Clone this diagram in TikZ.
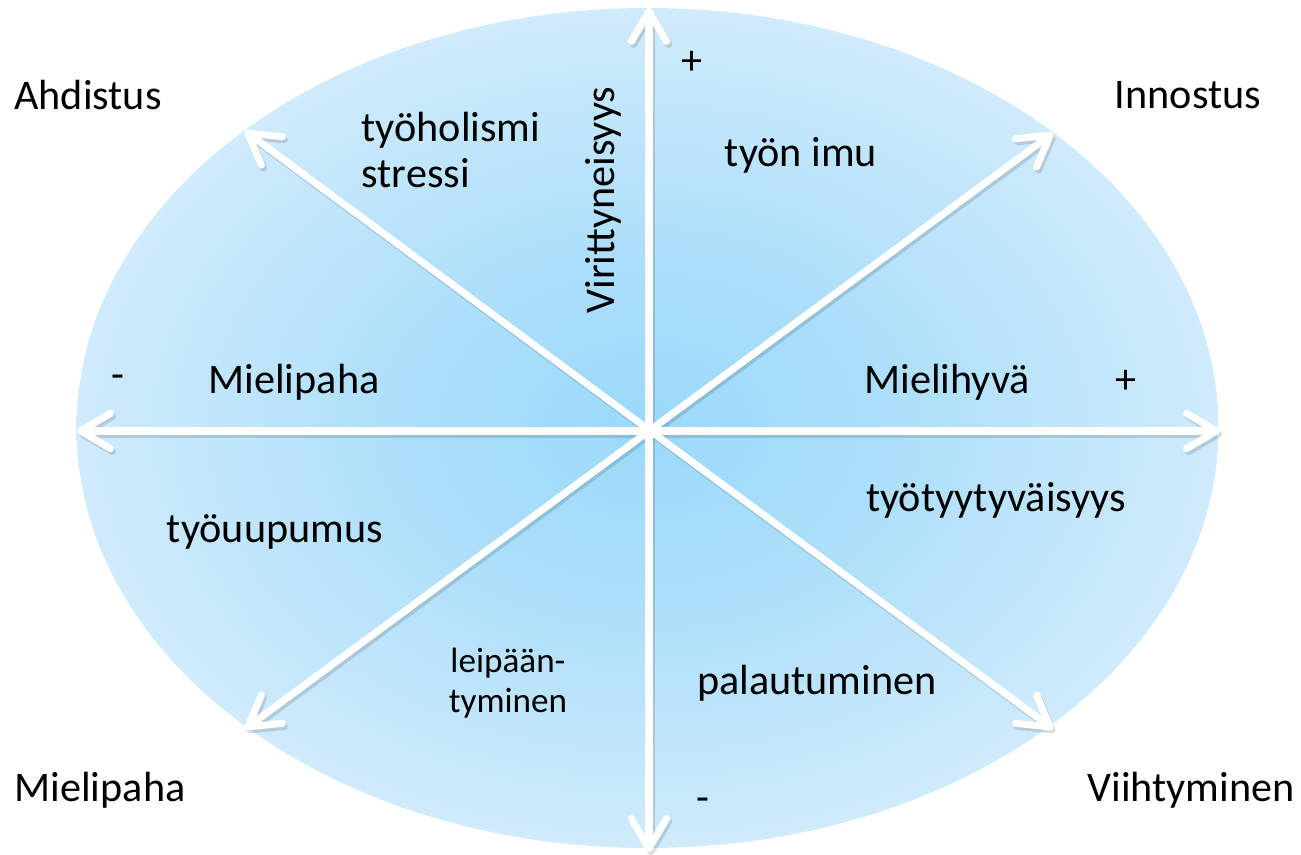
\documentclass[tikz,border=0pt]{standalone}
\usepackage{fontspec}
\setmainfont{Carlito}
\usetikzlibrary{arrows.meta}
\definecolor{skyin}{RGB}{155,217,250}
\definecolor{skyout}{RGB}{208,235,251}
\pgfdeclareradialshading{skyshade}{\pgfpoint{0bp}{0bp}}{color(0bp)=(skyin); color(10bp)=(skyin!70!skyout); color(25bp)=(skyout); color(50bp)=(skyout)}
\tikzset{
  axis/.style={draw=white,line width=2pt,
    {Straight Barb[length=8.5pt,width=10pt,round]}-{Straight Barb[length=8.5pt,width=10pt,round]}},
  axisshadow/.style={axis,draw=black,opacity=.13},
  lbl/.style={inner sep=0pt,font=\fontsize{12}{13}\selectfont},
  smalllbl/.style={inner sep=0pt,align=center,font=\fontsize{10}{11.4}\selectfont}
}
\begin{document}
\begin{tikzpicture}[x=0.01cm,y=-0.01cm]
    \useasboundingbox[fill=white] (0,0) rectangle (1301,854);
    \shade[shading=skyshade] (647.5,428) ellipse [x radius=571, y radius=420];

    \coordinate (o) at (649,431);
    \coordinate (n) at (649,8);
    \coordinate (s) at (649,852);
    \coordinate (w) at (77,431);
    \coordinate (e) at (1220,431);
    \coordinate (ne) at (1053,133);
    \coordinate (nw) at (245,131);
    \coordinate (sw) at (245,729);
    \coordinate (se) at (1053,729);

    \foreach \a/\b in {s/n,w/e,sw/ne,se/nw}
      \path[axisshadow] ([shift={(2,3)}]\a) -- ([shift={(2,3)}]\b);
    \foreach \a/\b in {s/n,w/e,sw/ne,se/nw}
      \path[axis] (\a) -- (\b);

    \node[lbl] (ahdistus) at (88,95) {Ahdistus};
    \node[lbl] (innostus) at (1188,95) {Innostus};
    \node[lbl] (mielipahab) at (100,790) {Mielipaha};
    \node[lbl] (viihtyminen) at (1191,790) {Viihtyminen};

    \node[lbl,align=left] (stressi) at (451,150) {työholismi\\stressi};
    \node[lbl] (imu) at (801,155) {työn imu};
    \node[lbl,rotate=90] (viritys) at (603,200) {Virittyneisyys};
    \node[lbl] (plusn) at (692,63) {+};

    \node[lbl] (miinusw) at (118,382) {-};
    \node[lbl] (mielipaha) at (294,382) {Mielipaha};
    \node[lbl] (mielihyva) at (947,382) {Mielihyvä};
    \node[lbl] (pluse) at (1126,382) {+};

    \node[lbl] (tyytyvaisyys) at (996,500) {työtyytyväisyys};
    \node[lbl] (uupumus) at (275,532) {työuupumus};
    \node[smalllbl] (leipaantyminen) at (508,683) {leipään-\\tyminen};
    \node[lbl] (palautuminen) at (817,683) {palautuminen};
    \node[lbl] (miinuss) at (703,805) {-};
\end{tikzpicture}
\end{document}
